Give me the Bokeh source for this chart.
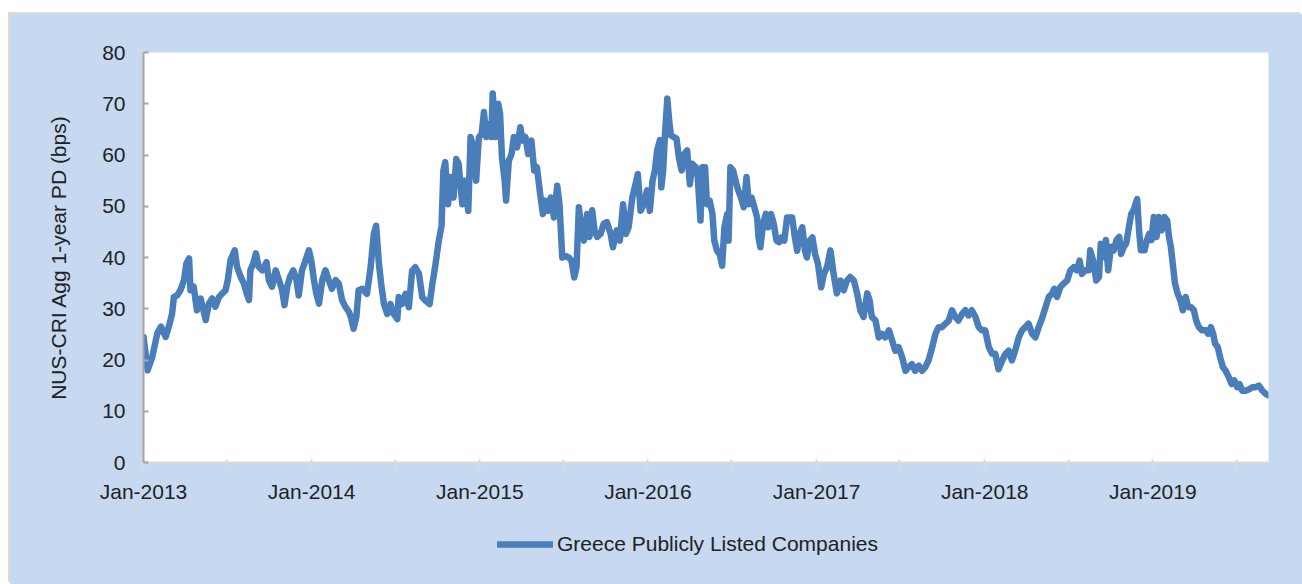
import pandas as pd
from bokeh.plotting import figure
from bokeh.layouts import column
from bokeh.models import (Range1d, FixedTicker, CustomJSTickFormatter, Legend,
                          LegendItem, ColumnDataSource)
from bokeh.embed import file_html
from bokeh.resources import INLINE

series_name = "Greece Publicly Listed Companies"
y_label = "NUS-CRI Agg 1-year PD (bps)"
start_date = "2013-01-01"
y_ticks = [0, 10, 20, 30, 40, 50, 60, 70, 80]
x_tick_start = "2013-01-01"
x_tick_end = "2019-07-01"

# days since 2013-01-01
days = [
    0, 9, 19, 30, 38, 48, 55, 62, 66, 73, 80, 88, 93, 99, 102, 109, 116, 124, 135, 142,
    149, 156, 164, 171, 178, 183, 189, 198, 203, 211, 218, 224, 229, 232, 238, 244, 250, 258, 267, 272,
    279, 287, 294, 301, 306, 312, 318, 325, 332, 337, 344, 352, 359, 364, 370, 375, 381, 388, 395, 402,
    409, 417, 424, 431, 438, 446, 451, 456, 462, 467, 475,
    485, 493, 500, 505, 511, 516, 522, 529, 536, 543, 551, 554, 561, 569, 576, 583, 590, 598, 605, 612,
    621, 627, 634, 641, 647, 651, 655, 661, 667, 673, 679, 684, 692, 697, 705, 710, 716, 722, 728, 734,
    739, 744, 750, 755, 758, 764, 770, 774, 778, 784, 787, 793, 799, 804, 811, 818, 823, 829, 835, 842,
    848, 854, 861, 867, 872, 878, 884, 891, 898, 903, 909, 916, 923, 929, 935, 940, 945, 951, 956, 963, 968,
    974, 979, 985, 992, 999, 1006, 1014, 1019, 1027, 1034, 1041, 1047, 1053, 1061, 1068, 1073, 1079, 1086, 1093, 1099,
    1105, 1110, 1115, 1121, 1124, 1128, 1132, 1137, 1141, 1145, 1151, 1157, 1162, 1168, 1174, 1180, 1186, 1191, 1199, 1203,
    1209, 1213, 1219, 1223, 1229, 1235, 1239, 1245, 1251, 1256, 1261, 1267, 1270, 1274, 1280, 1285, 1291, 1297, 1303, 1309,
    1314, 1320, 1326, 1332, 1335, 1339, 1345, 1351, 1356, 1362, 1368, 1374, 1380, 1385, 1391, 1397, 1403, 1408, 1414, 1419,
    1424, 1430, 1436, 1440, 1446, 1452, 1458,
    1464, 1471, 1477, 1484, 1491, 1498, 1505, 1513, 1520, 1527, 1534, 1542, 1549, 1556, 1563, 1571, 1576, 1581, 1589, 1596,
    1603, 1610, 1618, 1625, 1632, 1639, 1647, 1654, 1661, 1668, 1675, 1683, 1690, 1697, 1704, 1712, 1719, 1726, 1733, 1741,
    1748, 1755, 1762, 1769, 1777, 1784, 1791, 1798, 1806, 1813, 1820, 1827, 1835, 1842, 1849, 1856, 1864, 1871, 1878, 1885,
    1892, 1900, 1907, 1914, 1921, 1929, 1936, 1943,
    1950, 1958, 1965, 1972, 1977, 1983, 1990, 1997, 2005, 2012, 2019, 2026, 2032, 2037, 2044, 2052, 2055, 2063, 2068, 2074,
    2078, 2084, 2089, 2094, 2100, 2106, 2112, 2118, 2122, 2128, 2133, 2139, 2144, 2149, 2157, 2161, 2165, 2173, 2178, 2183,
    2188, 2193, 2199, 2204, 2210, 2216, 2222, 2226, 2230, 2235, 2239, 2245, 2251, 2256, 2262, 2268, 2274, 2280, 2285, 2291,
    2298, 2306, 2311, 2317, 2322, 2326, 2332, 2337, 2343, 2349, 2356, 2362, 2368, 2374, 2379, 2385, 2392, 2400, 2407, 2414,
    2421, 2429, 2436, 2442,
]

pd_bps = [
    24.5, 18.0, 20.6, 25.2, 26.5, 24.5, 26.5, 29.0, 32.3, 32.6, 33.6, 35.6, 38.8, 39.8, 33.6, 34.3, 29.7, 32.0, 27.8, 31.0,
    32.0, 30.4, 32.3, 33.0, 33.6, 35.6, 39.5, 41.4, 38.2, 36.2, 34.9, 33.0, 31.7, 37.5, 38.8, 40.8, 38.2, 37.5, 39.1, 35.6,
    34.3, 37.5, 35.6, 33.6, 30.7, 34.3, 36.2, 37.5, 35.6, 32.6, 37.5, 39.5, 41.4, 39.5, 35.6, 33.0, 31.0, 35.6, 37.5, 35.6,
    33.9, 35.6, 34.9, 31.7, 30.4, 29.4, 28.1, 26.1, 28.4, 33.6, 33.9,
    32.9, 38.1, 44.6, 46.2, 38.8, 34.8, 30.9, 29.0, 30.9, 29.0, 28.0, 32.3, 30.9, 32.9, 30.3, 37.4, 38.1, 36.8, 32.3, 31.6,
    30.9, 34.8, 38.8, 43.3, 46.2, 57.0, 58.6, 50.4, 55.7, 51.7, 59.2, 58.3, 50.4, 55.0, 49.1, 63.5, 61.5, 55.0, 63.5, 64.1,
    68.4, 63.5, 66.1, 63.5, 72.0, 63.5, 70.0, 68.1, 59.6, 55.0, 51.1, 58.9, 60.2, 63.5, 61.5, 65.4, 62.8, 63.5, 60.2, 62.8,
    57.0, 57.6, 52.4, 48.5, 51.1, 49.1, 51.7, 47.8, 54.0, 50.4, 40.0, 40.3, 40.0, 39.4, 36.1, 38.1, 49.8, 45.3, 43.3, 48.5, 44.0,
    49.2, 45.3, 44.0, 44.6, 46.6, 46.9, 44.6, 42.0, 45.3, 43.3, 50.4, 44.6, 45.9, 51.7, 54.3, 56.3, 49.1, 50.4, 53.1, 49.1,
    55.0, 57.0, 60.9, 62.9, 53.7, 57.0, 64.1, 71.0, 66.7, 63.8, 63.5, 63.2, 59.6, 57.0, 60.2, 60.9, 54.3, 58.3, 57.6, 55.7,
    47.2, 57.6, 57.6, 50.4, 51.1, 48.5, 43.3, 41.3, 40.6, 38.4, 45.9, 48.5, 43.3, 57.6, 57.0, 55.0, 53.1, 51.7, 49.8, 55.7,
    50.4, 51.7, 49.8, 47.8, 43.9, 42.0, 46.6, 48.5, 45.9, 48.5, 46.6, 43.3, 43.0, 43.9, 43.3, 47.8, 47.8, 47.8, 43.9, 41.3,
    44.6, 45.9, 41.3, 40.0, 43.3, 43.9, 40.6,
    38.8, 34.2, 36.8, 38.2, 41.4, 36.8, 33.0, 35.5, 33.6, 35.5, 36.2, 35.5, 33.0, 29.7, 28.4, 33.0, 31.7, 28.4, 27.7, 24.4,
    25.1, 24.4, 25.8, 23.8, 21.8, 22.5, 20.5, 17.9, 18.6, 19.2, 17.9, 18.9, 17.9, 18.6, 19.9, 22.5, 25.1, 26.4, 26.4, 27.1,
    27.7, 29.7, 28.4, 27.7, 29.0, 29.7, 28.7, 29.7, 28.4, 26.4, 25.8, 25.8, 22.5, 21.2, 21.2, 18.2, 19.9, 21.2, 21.8, 19.9,
    21.8, 24.4, 25.8, 26.4, 27.1, 25.1, 24.4, 26.4,
    28.0, 30.3, 32.3, 32.9, 33.9, 32.3, 34.2, 34.9, 35.5, 37.5, 38.1, 37.5, 39.4, 36.8, 37.5, 37.5, 41.4, 38.8, 35.5, 36.2,
    42.7, 40.1, 43.4, 37.5, 42.1, 41.4, 43.4, 44.0, 40.7, 42.1, 42.7, 45.9, 48.5, 49.2, 51.4, 45.3, 41.4, 41.4, 43.4, 44.6,
    43.4, 47.9, 44.0, 47.9, 45.3, 47.9, 47.2, 44.0, 42.1, 38.1, 34.9, 32.9, 31.6, 29.7, 32.3, 30.3, 30.3, 29.7, 27.7, 26.4,
    25.8, 25.8, 25.1, 26.4, 25.1, 23.2, 22.5, 20.5, 18.6, 17.9, 16.6, 15.3, 16.0, 14.7, 15.3, 14.0, 14.0, 14.3, 14.7, 14.7,
    15.0, 14.0, 13.4, 13.1,
]

start = pd.Timestamp(start_date)
dates = start + pd.to_timedelta(days, unit="D")
src = ColumnDataSource(dict(date=dates, value=pd_bps))

FONT = "Liberation Sans"
TXT = "#222222"
BG = "#c6d9f1"
LINE = dict(line_color="#4a7ebb", line_width=6.5, line_join="round", line_cap="round")

p = figure(frame_width=1125, frame_height=410, x_axis_type="datetime",
           output_backend="svg", toolbar_location=None,
           x_range=Range1d(dates[0], dates[-1]), y_range=Range1d(0, 80),
           min_border_left=133, min_border_right=34, min_border_top=38,
           min_border_bottom=50)
p.background_fill_color = "white"
p.border_fill_color = BG
p.outline_line_color = None
p.xgrid.visible = False
p.ygrid.visible = False

r = p.line("date", "value", source=src, **LINE)

# y axis
ya = p.yaxis[0]
ya.ticker = FixedTicker(ticks=y_ticks)
ya.axis_label = y_label
ya.axis_label_text_font = FONT
ya.axis_label_text_font_size = "21px"
ya.axis_label_text_font_style = "normal"
ya.axis_label_text_color = TXT
ya.axis_label_standoff = 29
ya.major_label_text_font = FONT
ya.major_label_text_font_size = "21px"
ya.major_label_text_color = TXT
ya.major_label_standoff = 18
ya.axis_line_color = "#a6a6a6"
ya.axis_line_width = 2
ya.major_tick_line_color = "#a6a6a6"
ya.major_tick_line_width = 2
ya.major_tick_in = 5
ya.major_tick_out = 0
ya.minor_tick_line_color = None

# x axis
tick_dates = pd.date_range(x_tick_start, x_tick_end, freq="6MS")
xa = p.xaxis[0]
xa.ticker = FixedTicker(ticks=[t.timestamp() * 1000 for t in tick_dates])
xa.formatter = CustomJSTickFormatter(code="""
const d = new Date(tick);
return d.getUTCMonth() == 0 ? 'Jan-' + d.getUTCFullYear() : '';
""")
xa.major_label_text_font = FONT
xa.major_label_text_font_size = "21px"
xa.major_label_text_color = TXT
xa.major_label_standoff = 10
xa.axis_line_color = "#d9d9d9"
xa.axis_line_width = 2
xa.major_tick_line_color = "#d9d9d9"
xa.major_tick_line_width = 2
xa.major_tick_in = 3
xa.major_tick_out = 7
xa.minor_tick_line_color = None

# legend strip below the chart (same series, its data lies outside this strip's ranges)
lg = figure(width=1292, height=72, output_backend="svg", toolbar_location=None,
            x_axis_location=None, y_axis_location=None,
            x_range=Range1d(0, 1), y_range=Range1d(0, 1),
            min_border=0)
lg.background_fill_color = None
lg.border_fill_color = BG
lg.outline_line_color = None
lg.xgrid.visible = False
lg.ygrid.visible = False
lr = lg.line("date", "value", source=src, **LINE)
legend = Legend(items=[LegendItem(label=series_name, renderers=[lr])],
                orientation="horizontal", location=(354, 28),
                border_line_color=None, background_fill_alpha=0,
                label_text_font=FONT, label_text_font_size="21px",
                label_text_color=TXT, glyph_width=56, glyph_height=20,
                label_standoff=4, margin=0, padding=7)
lg.add_layout(legend, "center")

layout = column(p, lg, spacing=0)
layout.margin = (14, 0, 0, 10)
layout.styles = {"box-shadow": "-2px -2px 0 0 #dadada", "background-color": BG}

open("out.html", "w").write(file_html(layout, INLINE))
